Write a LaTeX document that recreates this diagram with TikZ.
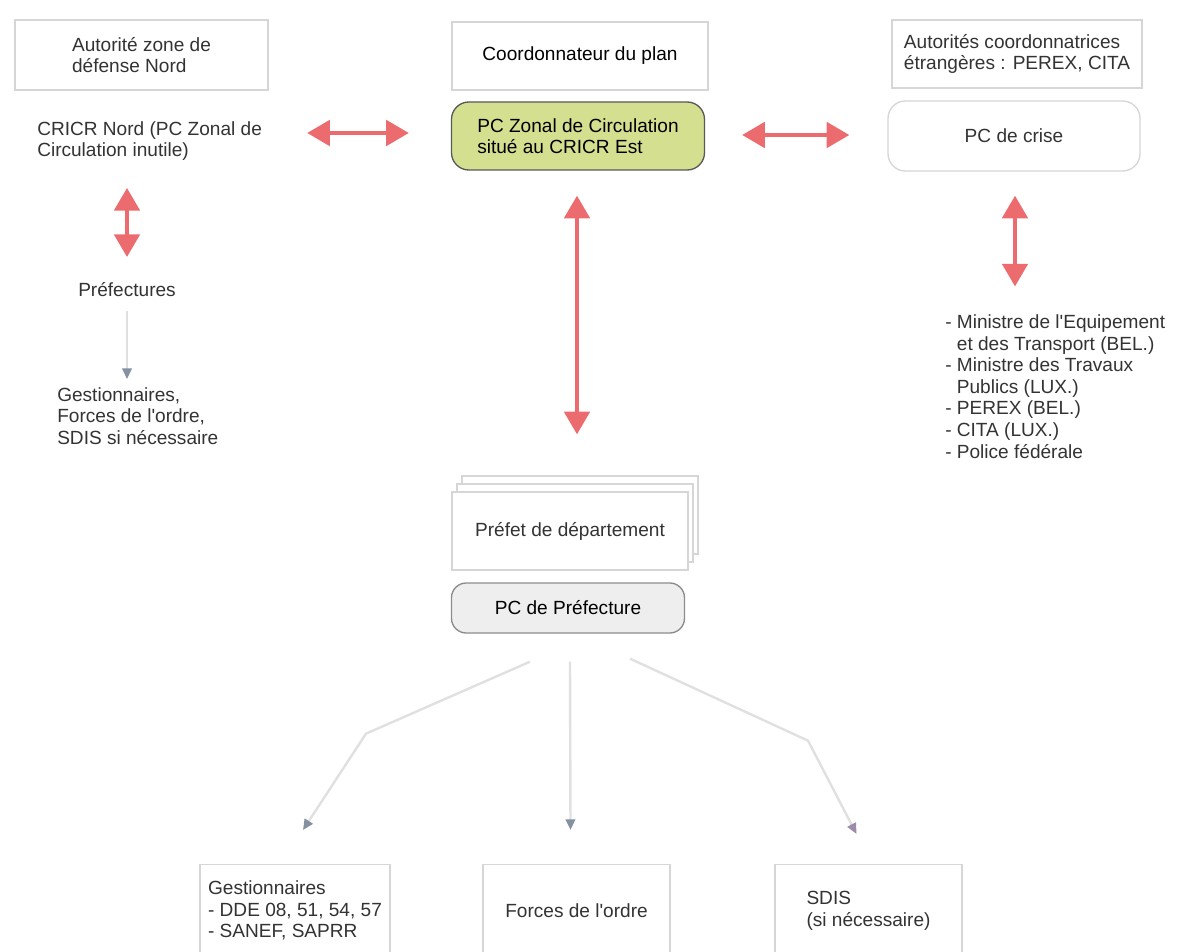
\documentclass[tikz,border=0pt]{standalone}
\usepackage{fontspec}
\setmainfont{Liberation Sans}
\usetikzlibrary{arrows.meta,calc}
\definecolor{ink}{HTML}{333333}
\definecolor{boxline}{HTML}{D6D6D6}
\definecolor{redlink}{HTML}{EC6B6E}
\definecolor{greylink}{HTML}{E0E0E0}
\definecolor{greytip}{HTML}{8391A0}
\definecolor{mauvetip}{HTML}{9C8CAA}
\definecolor{zonalfill}{HTML}{D4E08F}
\definecolor{preffill}{HTML}{EEEEEE}
\newcommand{\apos}{\textquotesingle}
\begin{document}
\begin{tikzpicture}[x=0.75pt,y=-0.75pt,
  txt/.style={font=\fontsize{14.3}{16.2}\selectfont, text=ink, inner sep=0pt, align=left},
  plainbox/.style={txt, draw=boxline, line width=1pt, fill=white},
  roundbox/.style={plainbox, rounded corners=13pt},
  redarrow/.style={draw=redlink, line width=3pt,
    {Triangle[length=17pt,width=19pt]}-{Triangle[length=17pt,width=19pt]}},
  greyarrow/.style={draw=greylink, line width=1.8pt,
    -{Triangle[length=8pt,width=7pt,color=#1]}},
  greyarrow/.default=greytip]
\useasboundingbox (0,0) rectangle (1182,952);
\clip (0,0) rectangle (1182,952);

% top row: authorities
\node[plainbox, minimum width=189.75pt, minimum height=52.5pt] (azd) at (141.5,55)
  {Autorité zone de\\défense Nord};
\node[plainbox, minimum width=192pt, minimum height=51pt, text=black] (coord) at (580,56)
  {Coordonnateur du plan};
\node[plainbox, minimum width=187.5pt, minimum height=51pt] (etr) at (1017,54)
  {Autorités coordonnatrices\\étrangères : PEREX, CITA};

% second row: command posts
\node[txt, anchor=west] (cricr) at (37,141) {CRICR Nord (PC Zonal de\\Circulation inutile)};
\node[roundbox, draw=black!65, fill=zonalfill, text=black, minimum width=189.75pt, minimum height=51pt] (pcz) at (578,136)
  {PC Zonal de Circulation\\situé au CRICR Est};
\node[roundbox, minimum width=189pt, minimum height=52.5pt] (crise) at (1014,136) {PC de crise};

% left column
\node[txt] (pref) at (127,290) {Préfectures};
\node[txt, anchor=west] (gest1) at (57,416) {Gestionnaires,\\Forces de l\apos ordre,\\SDIS si nécessaire};

% right column
\node[txt, anchor=west] (list) at (945,386.5)
  {- Ministre de l\apos Equipement\\\phantom{- }et des Transport (BEL.)\\- Ministre des Travaux\\\phantom{- }Publics (LUX.)\\- PEREX (BEL.)\\- CITA (LUX.)\\- Police fédérale};

% prefect (stacked boxes)
\draw[draw=boxline, line width=1pt, fill=white] (462,476) rectangle (698,554);
\draw[draw=boxline, line width=1pt, fill=white] (457,484) rectangle (693,562);
\node[plainbox, minimum width=177pt, minimum height=58.5pt] (prefet) at (570,531) {Préfet de département};
\node[roundbox, rounded corners=11pt, draw=black!45, fill=preffill, text=black, minimum width=174.75pt, minimum height=37.5pt] (pcpref) at (568,608)
  {PC de Préfecture};

% bottom row
\node[plainbox, anchor=north, minimum width=142.5pt, minimum height=69pt] (gest2) at (295,864)
  {Gestionnaires\\- DDE 08, 51, 54, 57\\- SANEF, SAPRR};
\node[plainbox, anchor=north, minimum width=140.25pt, minimum height=69pt] (forces) at (576.5,864)
  {Forces de l\apos ordre};
\node[plainbox, anchor=north, minimum width=140.25pt, minimum height=69pt] (sdis) at (868.5,864)
  {SDIS\\(si nécessaire)};

% two-way links
\draw[redarrow] ($(cricr.east)+(45,-8)$) -- ($(pcz.west)+(-42,-3)$);
\draw[redarrow] ($(pcz.east)+(37,-1)$) -- ($(crise.west)+(-38,-1)$);
\draw[redarrow] ($(pref.center)+(0,-102)$) -- ($(pref.center)+(0,-33)$);
\draw[redarrow] ($(crise.south)+(1,24)$) -- ($(list.north -| crise.south)+(1,-28)$);
\draw[redarrow] ($(pcz.south)+(-1,25)$) -- ($(prefet.north)+(7,-57)$);

% one-way links
\draw[greyarrow] ($(pref.south)+(0,14)$) -- ($(pref |- gest1.north)+(0,-8)$);
\draw[greyarrow] ($(pcpref.south)+(-38,28)$) -- ($(pcpref.south)+(-202,100)$) -- ($(gest2.north)+(8,-34)$);
\draw[greyarrow] ($(pcpref.south)+(2,28)$) -- ($(forces.north)+(-6,-34)$);
\draw[greyarrow=mauvetip] ($(pcpref.south)+(62,25)$) -- ($(pcpref.south)+(240,107)$) -- ($(sdis.north)+(-12,-30)$);
\end{tikzpicture}
\end{document}
